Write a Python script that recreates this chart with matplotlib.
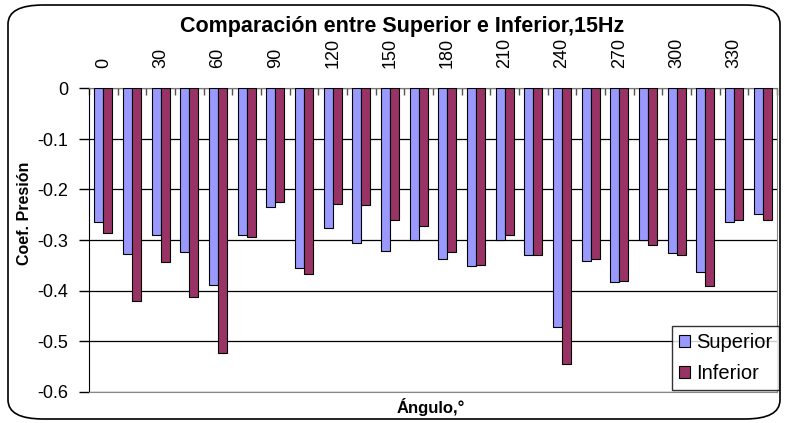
import numpy as np
import matplotlib
matplotlib.use("Agg")
import matplotlib.pyplot as plt
from matplotlib.patches import FancyBboxPatch

plt.rcParams["font.family"] = ["Liberation Sans", "DejaVu Sans"]

# ── datos ─────────────────────────────────────────────────────────────────────
angles = list(range(0, 360, 15))
superior = [-0.264, -0.327, -0.291, -0.324, -0.389, -0.291, -0.234, -0.355,
            -0.276, -0.306, -0.321, -0.300, -0.337, -0.352, -0.300, -0.330,
            -0.472, -0.342, -0.384, -0.300, -0.326, -0.363, -0.264, -0.249]
inferior = [-0.286, -0.421, -0.343, -0.412, -0.524, -0.294, -0.225, -0.367,
            -0.228, -0.231, -0.261, -0.272, -0.324, -0.349, -0.291, -0.330,
            -0.545, -0.337, -0.381, -0.309, -0.330, -0.391, -0.261, -0.261]
y_ticks = [0, -0.1, -0.2, -0.3, -0.4, -0.5, -0.6]

C_SUP = "#9999FF"
C_INF = "#993366"

fig = plt.figure(figsize=(7.85, 4.23), dpi=100)

# marco redondeado del gráfico
frame = FancyBboxPatch((8 / 785, 4 / 423), 772 / 785, 414 / 423,
                       boxstyle="round,pad=0,rounding_size=0.045",
                       transform=fig.transFigure, facecolor="white",
                       edgecolor="black", linewidth=1.2, zorder=0)
fig.patches.append(frame)

ax = fig.add_axes([89 / 785, 1 - 391.5 / 423, 688 / 785, 303 / 423])
ax.set_zorder(1)

x = np.arange(len(angles))
w = 0.31
ax.bar(x - w / 2, superior, w, color=C_SUP, edgecolor="black", linewidth=0.8,
       label="Superior", zorder=3)
ax.bar(x + w / 2, inferior, w, color=C_INF, edgecolor="black", linewidth=0.8,
       label="Inferior", zorder=3)

ax.set_xlim(-0.5, len(angles) - 0.5)
ax.set_ylim(-0.6, 0)
ax.set_yticks(y_ticks)
ax.set_yticklabels(["0" if v == 0 else f"{v:.1f}" for v in y_ticks], fontsize=13)
ax.tick_params(axis="y", direction="out", length=7, width=1, pad=8)

ax.xaxis.tick_top()
ax.set_xticks(x[::2])
ax.set_xticklabels([str(a) for a in angles[::2]], rotation=90, fontsize=13)
ax.tick_params(axis="x", which="major", length=0, pad=15)
ax.set_xticks(np.arange(-0.5, len(angles), 1), minor=True)
ax.tick_params(axis="x", which="minor", direction="in", length=5, width=1,
               color="#555555", top=True)

ax.grid(axis="y", color="black", linewidth=0.9, zorder=1)
ax.spines["left"].set_color("black")
ax.spines["top"].set_color("#777777")
ax.spines["right"].set_color("#888888")
ax.spines["bottom"].set_color("#888888")

fig.text(402 / 785, 0.937, "Comparación entre Superior e Inferior,15Hz",
         ha="center", va="center", fontsize=15.5, fontweight="bold")
fig.text(25 / 785, 0.495, "Coef. Presión", rotation=90, ha="center",
         va="center", fontsize=11.5, fontweight="bold")
fig.text(431 / 785, 1 - 407 / 423, "Ángulo,°", ha="center", va="center",
         fontsize=12, fontweight="bold")

leg = ax.legend(loc="lower right", bbox_to_anchor=(779 / 785, 1 - 390 / 423),
                bbox_transform=fig.transFigure, fontsize=14.5, frameon=True,
                fancybox=False, borderaxespad=0, handlelength=0.55,
                handleheight=0.55, handletextpad=0.3, labelspacing=0.6,
                borderpad=0.35)
leg.get_frame().set_edgecolor("black")
leg.get_frame().set_linewidth(1)
leg.set_zorder(5)

fig.savefig("out.png", dpi=100)
